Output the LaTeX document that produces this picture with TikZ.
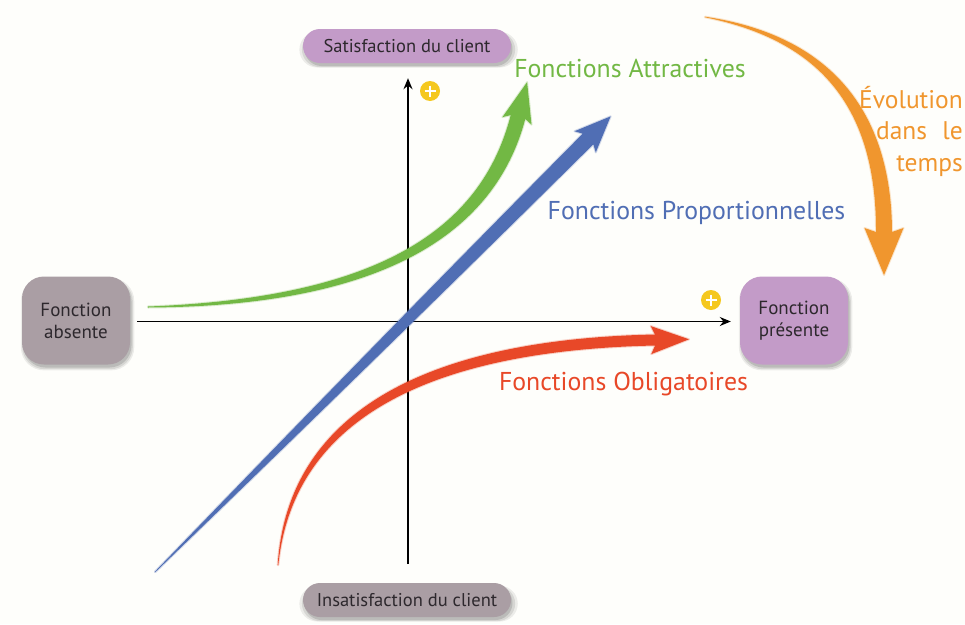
\documentclass[tikz,border=0pt]{standalone}
\usepackage{fontspec}
\setmainfont{PT Sans}
\usetikzlibrary{calc,arrows.meta,shadows}

\definecolor{cgreen}{RGB}{114,184,68}
\definecolor{cblue}{RGB}{80,110,180}
\definecolor{cred}{RGB}{232,72,40}
\definecolor{corange}{RGB}{240,150,46}
\definecolor{cpurple}{RGB}{195,155,200}
\definecolor{cgray}{RGB}{170,158,164}
\definecolor{cyellow}{RGB}{245,200,30}
\definecolor{ctext}{RGB}{45,40,45}
\definecolor{cbg}{RGB}{254,254,251}

% #1 colour, #2 coordinate prefix, #3-#6 half widths along the curve, #7 head half width, #8 head length
\newcommand{\fatarrow}[8]{%
  \coordinate (#2-b) at ($(#2-3)!4pt!(#2-2)$);
  \filldraw[fill=#1, draw=#1, draw opacity=0.25, line width=2pt, line join=round]
    ($(#2-0)!#3!90:(#2-1)$) .. controls ($(#2-1)!#4!90:(#2-2)$) and ($(#2-2)!#5!90:(#2-3)$) .. ($(#2-3)!#6!-90:(#2-2)$)
    -- ($(#2-b)!#7!-90:(#2-2)$)
    -- ($(#2-3)!-#8!(#2-2)$)
    -- ($(#2-b)!#7!90:(#2-2)$)
    -- ($(#2-3)!#6!90:(#2-2)$)
    .. controls ($(#2-2)!#5!-90:(#2-3)$) and ($(#2-1)!#4!-90:(#2-2)$) .. ($(#2-0)!#3!-90:(#2-1)$)
    -- cycle;
}

\tikzset{
  softshadow/.style={
    drop shadow={shadow xshift=1.5pt, shadow yshift=-3.5pt, opacity=0.07, fill=black, shadow scale=1.05},
    drop shadow={shadow xshift=1.5pt, shadow yshift=-3.5pt, opacity=0.09, fill=black, shadow scale=1.025},
    drop shadow={shadow xshift=1.5pt, shadow yshift=-3pt, opacity=0.12, fill=black}},
  pill/.style={rounded corners=17pt, minimum width=208pt, minimum height=34pt, inner sep=0pt,
    text=ctext, font=\fontsize{18.5}{22}\selectfont, softshadow},
  sqbox/.style={rounded corners=22pt, minimum width=108pt, minimum height=88pt, inner sep=0pt,
    text=ctext, align=center, font=\fontsize{19}{22}\selectfont, softshadow},
  axis/.style={line width=1.6pt, draw=black, -{Stealth[length=11pt,width=9pt]}},
  plusicon/.style={circle, fill=cyellow, minimum size=20pt, inner sep=0pt,
    path picture={\draw[white, line width=2.8pt]
      (path picture bounding box.west) ++(4.5pt,0) -- ++(11pt,0)
      (path picture bounding box.north) ++(0,-4.5pt) -- ++(0,-11pt);}},
  biglabel/.style={font=\fontsize{25.8}{30}\selectfont, inner sep=0pt},
}

\begin{document}
\begin{tikzpicture}[x=1pt,y=-1pt]
\useasboundingbox (0,0) rectangle (965,624);
\fill[cbg] (0,0) rectangle (965,624);

% boxes
\node[pill, fill=cpurple] (sat) at (407,46) {Satisfaction du client};
\node[pill, fill=cgray] (insat) at (407,600) {Insatisfaction du client};
\node[sqbox, fill=cgray] (abs) at (76,320.5) {Fonction\\absente};
\node[sqbox, fill=cpurple] (pres) at (794,320.5) {Fonction\\présente};

% axes
\coordinate (vb) at (408,564);
\coordinate (hl) at (137,321.5);
\draw[axis, shorten >=15pt] (vb) -- (vb |- sat.south);
\draw[axis, shorten >=9pt] (hl) -- (hl -| pres.west);

% plus icons
\node[plusicon] (plus1) at (430,91) {};
\node[plusicon] (plus2) at (711,300) {};

% green arrow
\coordinate (g-0) at (148,307);
\coordinate (g-1) at (380,302);
\coordinate (g-2) at (488,232);
\coordinate (g-3) at (518,117);
\fatarrow{cgreen}{g}{0.5pt}{5pt}{7pt}{7.5pt}{15pt}{36pt}

% blue arrow
\coordinate (b-0) at (155,572);
\coordinate (b-1) at (299.3,427.7);
\coordinate (b-2) at (443.7,283.3);
\coordinate (b-3) at (588,139);
\fatarrow{cblue}{b}{0.3pt}{4pt}{6.5pt}{7.5pt}{15pt}{32pt}

% red arrow
\coordinate (r-0) at (278,565);
\coordinate (r-1) at (290,420);
\coordinate (r-2) at (420,345);
\coordinate (r-3) at (655,340);
\fatarrow{cred}{r}{0.3pt}{5pt}{5.5pt}{5.5pt}{14pt}{34pt}

% orange arrow
\coordinate (o-0) at (705,17);
\coordinate (o-1) at (826,38);
\coordinate (o-2) at (884,110);
\coordinate (o-3) at (884,232);
\fatarrow{corange}{o}{0.3pt}{4.5pt}{7.5pt}{8pt}{19.5pt}{43pt}

% labels
\node[biglabel, text=cgreen] (lattr) at (630,68) {Fonctions Attractives};
\node[biglabel, text=cblue] (lprop) at (696.5,213) {Fonctions Proportionnelles};
\node[biglabel, text=cred] (loblig) at (623.5,384) {Fonctions Obligatoires};
\node[font=\fontsize{25.5}{31.5}\selectfont, text=corange, align=right, anchor=east, inner sep=0pt] (levol) at (963,131)
  {Évolution\\dans\hspace{0.6em}le\\temps};
\end{tikzpicture}
\end{document}
